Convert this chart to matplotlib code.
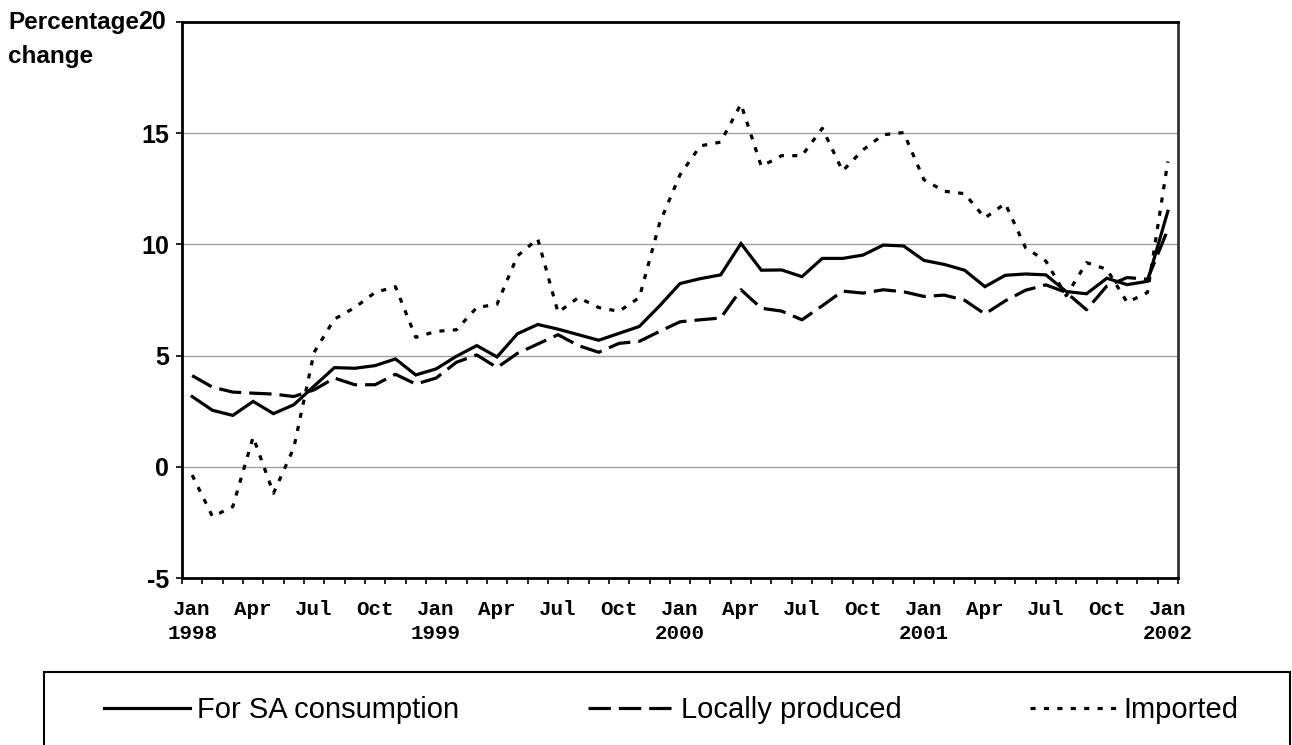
import numpy as np
import matplotlib
matplotlib.use("Agg")
import matplotlib.pyplot as plt
from matplotlib.patches import Rectangle

# monthly data, Jan 1998 - Jan 2002
months = np.arange(49)
sa_consumption = [3.16, 2.54, 2.31, 2.94, 2.39, 2.79, 3.63, 4.46, 4.43, 4.55, 4.85, 4.13, 4.40,
                  4.97, 5.45, 4.94, 5.98, 6.40, 6.19, 5.94, 5.69, 6.00, 6.31, 7.24, 8.24,
                  8.46, 8.63, 10.04, 8.84, 8.85, 8.55, 9.37, 9.37, 9.52, 9.97, 9.93, 9.28,
                  9.10, 8.84, 8.10, 8.61, 8.67, 8.63, 7.88, 7.78, 8.48, 8.19, 8.34, 11.49]
locally_produced = [4.10, 3.58, 3.36, 3.31, 3.27, 3.16, 3.46, 3.99, 3.69, 3.69, 4.16, 3.72, 3.99,
                    4.70, 5.03, 4.46, 5.10, 5.52, 5.94, 5.45, 5.15, 5.55, 5.64, 6.09, 6.52,
                    6.61, 6.69, 7.96, 7.13, 7.00, 6.61, 7.24, 7.90, 7.81, 7.96, 7.87, 7.66,
                    7.72, 7.49, 6.87, 7.46, 7.94, 8.18, 7.84, 7.06, 8.13, 8.51, 8.43, 10.67]
imported = [-0.37, -2.24, -1.79, 1.34, -1.19, 0.85, 5.15, 6.64, 7.16, 7.84, 8.10, 5.82, 6.09,
            6.16, 7.16, 7.31, 9.48, 10.25, 6.94, 7.61, 7.16, 6.99, 7.61, 10.97, 13.13,
            14.43, 14.60, 16.31, 13.51, 13.99, 13.99, 15.22, 13.30, 14.25, 14.93, 15.03, 12.91,
            12.39, 12.28, 11.19, 11.84, 9.85, 9.25, 7.69, 9.18, 8.88, 7.39, 7.84, 13.73]
tick_pos = np.arange(0, 49, 3)
tick_labels = ["Jan\n1998", "Apr", "Jul", "Oct", "Jan\n1999", "Apr", "Jul", "Oct",
               "Jan\n2000", "Apr", "Jul", "Oct", "Jan\n2001", "Apr", "Jul", "Oct", "Jan\n2002"]

W, H = 1292, 745
fig = plt.figure(figsize=(W / 100, H / 100), dpi=100)
ax = fig.add_axes([182 / W, 1 - 578 / H, (1178 - 182) / W, (578 - 22) / H])

l1, = ax.plot(months, sa_consumption, color="black", lw=2.3, solid_joinstyle="miter",
              label="For SA consumption")
l2, = ax.plot(months, locally_produced, color="black", lw=2.3, dashes=(7, 2.5),
              label="Locally produced")
l3, = ax.plot(months, imported, color="black", lw=2.3, dashes=(1.6, 2.6),
              label="Imported")

ax.set_xlim(-0.5, 48.5)
ax.set_ylim(-5, 20)
ax.set_yticks([-5, 0, 5, 10, 15, 20])
ax.set_yticklabels(["-5", "0", "5", "10", "15", ""], fontfamily="Liberation Sans",
                   fontweight="bold", fontsize=18)
for y in [0, 5, 10, 15]:
    ax.axhline(y, color="#a0a0a0", lw=1.0, zorder=0)

ax.set_xticks(tick_pos)
ax.set_xticklabels(tick_labels, fontfamily="Liberation Mono", fontweight="bold",
                   fontsize=15, va="top", linespacing=1.35)
ax.set_xticks(np.arange(-0.5, 49, 1), minor=True)
ax.tick_params(axis="x", which="major", length=0, pad=16)
ax.tick_params(axis="x", which="minor", length=4.5, width=1.2, direction="out")
ax.tick_params(axis="y", length=4.5, width=1.2, direction="out", pad=5)

for s in ax.spines.values():
    s.set_linewidth(2)
    s.set_color("black")
ax.spines["right"].set_color("#333333")

fig.text(8 / W, 1 - 22 / H, "Percentage", fontfamily="Liberation Sans", fontweight="bold",
         fontsize=17.5, ha="left", va="center")
fig.text(8 / W, 1 - 57 / H, "change", fontfamily="Liberation Sans", fontweight="bold",
         fontsize=17.5, ha="left", va="center")
fig.text(166 / W, 1 - 22 / H, "20", fontfamily="Liberation Sans", fontweight="bold",
         fontsize=18, ha="right", va="center")

# legend box
fig.patches.append(Rectangle((44 / W, -0.05), (1290 - 44) / W, 0.05 + 1 - 672 / H,
                             transform=fig.transFigure, fill=False, edgecolor="black",
                             lw=1.5))
fig.legend(handles=[l1, l2, l3], loc="center left", bbox_to_anchor=(104 / W, 1 - 710 / H),
           ncol=3, frameon=False, prop={"family": "Liberation Sans", "size": 21},
           handlelength=2.95, handletextpad=0.25, columnspacing=4.4, borderpad=0,
           borderaxespad=0)

fig.savefig("out.png", dpi=100)
